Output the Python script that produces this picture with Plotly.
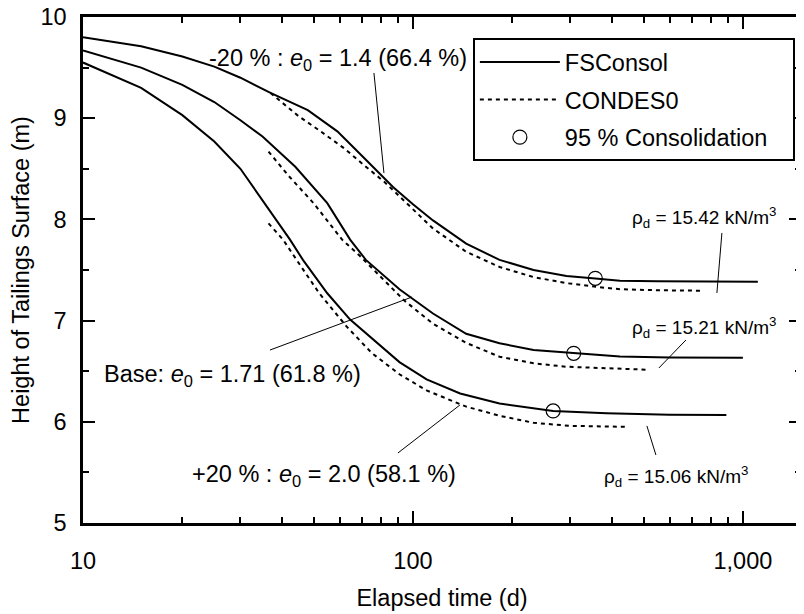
import math
import plotly.graph_objects as go

# ---- data ----
# FSConsol (solid)
t_fs_m20 = [10, 15, 20, 25, 30, 37, 48, 59, 72, 87, 100, 115, 145, 183, 232, 292, 357, 424, 550, 800, 1110]
h_fs_m20 = [9.80, 9.71, 9.61, 9.51, 9.40, 9.25, 9.08, 8.87, 8.59, 8.32, 8.15, 7.99, 7.76, 7.60, 7.50, 7.44, 7.415, 7.395, 7.388, 7.385, 7.385]

t_fs_base = [10, 15, 20, 25, 30, 35, 44, 55, 64.5, 72, 91, 115, 145, 183, 232, 307, 424, 600, 1000]
h_fs_base = [9.67, 9.50, 9.33, 9.16, 8.98, 8.82, 8.52, 8.16, 7.80, 7.60, 7.31, 7.07, 6.87, 6.776, 6.71, 6.677, 6.645, 6.636, 6.633]

t_fs_p20 = [10, 15, 20, 25, 30, 35, 42.4, 46.4, 55, 64.5, 79, 91, 110, 139, 183, 232, 266, 386, 600, 891]
h_fs_p20 = [9.55, 9.30, 9.03, 8.77, 8.50, 8.19, 7.80, 7.60, 7.27, 7.01, 6.76, 6.59, 6.42, 6.28, 6.18, 6.13, 6.107, 6.084, 6.07, 6.067]

# CONDES0 (dotted)
t_cd_m20 = [37, 45, 52, 62, 72, 82, 95, 115, 145, 183, 232, 292, 368, 424, 550, 760]
h_cd_m20 = [9.25, 9.02, 8.88, 8.70, 8.52, 8.37, 8.17, 7.91, 7.68, 7.53, 7.43, 7.37, 7.33, 7.31, 7.30, 7.295]

t_cd_base = [36.5, 42, 50, 61, 69, 80, 94, 115, 145, 183, 232, 292, 424, 510]
h_cd_base = [8.67, 8.43, 8.16, 7.80, 7.64, 7.43, 7.20, 6.97, 6.78, 6.643, 6.578, 6.544, 6.52, 6.515]

t_cd_p20 = [36.5, 40.4, 44.4, 52, 63, 75, 91, 110, 145, 183, 232, 300, 443]
h_cd_p20 = [7.96, 7.80, 7.60, 7.27, 6.94, 6.68, 6.47, 6.31, 6.15, 6.06, 5.99, 5.96, 5.95]

# 95 % consolidation points
t_95 = [357, 307, 266]
h_95 = [7.418, 6.677, 6.107]

x_tickvals = [10, 100, 1000]
x_ticktext = ["10", "100", "1,000"]
x_minor = [20, 30, 40, 50, 60, 70, 80, 90, 200, 300, 400, 500, 600, 700, 800, 900]

FONT = "Arial, Liberation Sans, sans-serif"
BLK = "black"
FS = 23.5
NB = "\u00a0"

fig = go.Figure()

solid = [(t_fs_m20, h_fs_m20), (t_fs_base, h_fs_base), (t_fs_p20, h_fs_p20)]
dotted = [(t_cd_m20, h_cd_m20), (t_cd_base, h_cd_base), (t_cd_p20, h_cd_p20)]

for i, (t, h) in enumerate(solid):
    fig.add_trace(go.Scatter(x=t, y=h, mode="lines", name="FSConsol", legendgroup="fs",
                             line=dict(color=BLK, width=2), showlegend=(i == 0)))
for i, (t, h) in enumerate(dotted):
    fig.add_trace(go.Scatter(x=t, y=h, mode="lines", name="CONDES0", legendgroup="cd",
                             line=dict(color=BLK, width=2, dash="4px,4px"), showlegend=(i == 0)))
fig.add_trace(go.Scatter(x=t_95, y=h_95, mode="markers", name="95 % Consolidation" + NB * 3, legendgroup="c95",
                         marker=dict(symbol="circle-open", size=14, color=BLK, line=dict(width=1.2, color=BLK))))

# ---- annotations (text + leader lines) ----
L = math.log10
# (text, log10 t, h, font size, x anchor)
texts = [
    ("-20 % : <i>e</i><sub>0</sub> = 1.4 (66.4 %)", 1.3758, 9.585, FS, "left"),
    ("Base: <i>e</i><sub>0</sub> = 1.71 (61.8 %)", 1.0576, 6.462, FS, "left"),
    ("+20 % : <i>e</i><sub>0</sub> = 2.0 (58.1 %)", 1.3242, 5.474, FS, "left"),
    ("\u03c1<sub>d</sub> = 15.42 kN/m<sup>3</sup>", 3.1061, 8.014, 19, "right"),
    ("\u03c1<sub>d</sub> = 15.21 kN/m<sup>3</sup>", 3.1061, 6.927, 19, "right"),
    ("\u03c1<sub>d</sub> = 15.06 kN/m<sup>3</sup>", 3.0212, 5.455, 19, "right"),
]
for txt, lx, y, fs, xa in texts:
    fig.add_annotation(text=txt, x=lx, y=y, xref="x", yref="y", xanchor=xa, yanchor="middle",
                       showarrow=False, font=dict(family=FONT, size=fs, color=BLK))

# leader lines: (log10 t0, h0, log10 t1, h1)
leaders = [
    (1.8818, 9.447, 1.9121, 8.458),
    (1.5667, 6.709, 1.9970, 7.233),
    (1.9545, 5.692, 2.1424, 6.166),
    (2.9364, 7.866, 2.9212, 7.273),
    (2.8273, 6.808, 2.7455, 6.532),
    (2.7091, 5.959, 2.7364, 5.672),
]
for lx0, y0, lx1, y1 in leaders:
    fig.add_shape(type="line", xref="x", yref="y", x0=10 ** lx0, y0=y0, x1=10 ** lx1, y1=y1,
                  line=dict(color=BLK, width=1))

axis_common = dict(showgrid=False, zeroline=False, showline=True, linecolor=BLK, linewidth=2.5,
                   mirror="ticks", ticks="inside", ticklen=12, tickwidth=1.5, tickcolor=BLK,
                   automargin=False, ticklabeloverflow="allow",
                   tickfont=dict(family=FONT, size=FS, color=BLK))

fig.update_xaxes(type="log", range=[1, L(1500)], tickvals=x_tickvals, ticktext=x_ticktext,
                 minor=dict(tickvals=x_minor, ticks="inside", ticklen=6, tickwidth=1.5, tickcolor=BLK),
                 ticklabelstandoff=15,
                 title=dict(text="Elapsed time (d)", font=dict(family=FONT, size=FS, color=BLK), standoff=17),
                 **axis_common)
fig.update_yaxes(range=[5, 10], dtick=1,
                 minor=dict(dtick=0.5, ticks="inside", ticklen=6, tickwidth=1.5, tickcolor=BLK),
                 ticklabelstandoff=9,
                 title=dict(text="Height of Tailings Surface (m)", font=dict(family=FONT, size=FS, color=BLK), standoff=16),
                 **axis_common)

# page body has an 8 px margin, so the figure is 8 px smaller than the window
fig.update_layout(
    width=796, height=606,
    margin=dict(l=75, r=3, t=9, b=91),
    plot_bgcolor="white", paper_bgcolor="white",
    font=dict(family=FONT, size=FS, color=BLK),
    legend=dict(x=0.543, y=0.958, xanchor="left", yanchor="top",
                bordercolor=BLK, borderwidth=2, bgcolor="white",
                itemwidth=80,
                font=dict(family=FONT, size=FS, color=BLK), tracegroupgap=4),
    showlegend=True,
)

fig.write_html("out.html")
